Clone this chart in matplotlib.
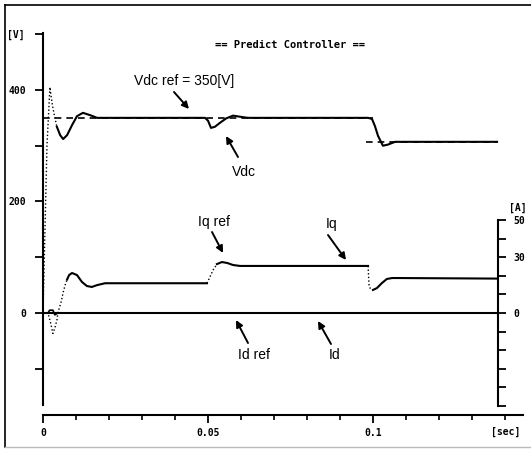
import matplotlib
matplotlib.use('Agg')
import matplotlib.pyplot as plt
from matplotlib.lines import Line2D

# ---- data ----
# DC link voltage [V] vs time [s]
vdc_t = [0.0, 0.0006, 0.0012, 0.0021, 0.0024, 0.0027, 0.0030, 0.0036, 0.0042,
         0.0052, 0.0061, 0.0073, 0.0088, 0.0103, 0.0121, 0.0142, 0.0164, 0.0179,
         0.0491, 0.0500, 0.0509, 0.0521, 0.0536, 0.0555, 0.0576, 0.0597, 0.0621,
         0.0985, 0.0997, 0.1006, 0.1015, 0.1030, 0.1045, 0.1067, 0.1376]
vdc_v = [0, 150, 300, 405, 391, 379, 368, 350, 334,
         319, 312, 319, 337, 353, 359, 355, 350, 350,
         350, 345, 332, 334, 341, 349, 354, 352, 350,
         350, 348, 335, 318, 300, 302, 307, 307]
vdc_dotted = [(0, 8)]

# Vdc reference [V], stepped down at t = 0.1 s (no vertical drawn)
vref_t = [0.0, 0.1, float('nan'), 0.098, 0.1376]
vref_v = [350, 350, float('nan'), 307, 307]

# q-axis current [A]
iq_t = [0.0, 0.0015, 0.0024, 0.0030, 0.0036, 0.0042, 0.0045, 0.0055, 0.0061,
        0.0067, 0.0073, 0.0079, 0.0088, 0.0103, 0.0118, 0.0133, 0.0148, 0.0164,
        0.0188, 0.0497, 0.0506, 0.0515, 0.0527, 0.0542, 0.0558, 0.0576, 0.0597,
        0.0985, 0.0988, 0.0991, 0.1000, 0.1012, 0.1027, 0.1042, 0.1058, 0.1076,
        0.1376]
iq_v = [0, 0, -6, -11, -8, -4, 0, 6, 11,
        15, 18, 20.4, 21.5, 20.4, 16.7, 14.5, 14, 15,
        16, 16, 19.4, 23, 26.3, 27.4, 26.9, 25.8, 25.3,
        25.3, 15, 13.4, 12.4, 13.4, 16.1, 18.3, 18.8, 18.8,
        18.5]
iq_dotted = [(0, 10), (19, 22), (27, 30)]

# d-axis current and its reference [A]
id_t = [0.0, 0.0015, 0.0020, 0.0030, 0.0036, 0.0045, 0.1379]
id_v = [0, 0, 1.5, 1.5, -1, 0, 0]
idref_t = [0.0, 0.1379]
idref_v = [0, 0]

W, H = 531, 450


def fpos(x, y):
    """pixel position in the picture -> figure fraction"""
    return x / W, 1 - y / H


def draw_trace(ax, t, v, dotted):
    # fast transients were drawn as loose dots by the plotter
    cuts = sorted(set([0, len(t) - 1] + [i for r in dotted for i in r]))
    for a, b in zip(cuts[:-1], cuts[1:]):
        if (a, b) in dotted:
            ax.plot(t[a:b + 1], v[a:b + 1], color='black', lw=1.0,
                    linestyle=(0, (1, 1.6)))
        else:
            ax.plot(t[a:b + 1], v[a:b + 1], color='black', lw=1.5)


fig = plt.figure(figsize=(W / 100, H / 100), dpi=100)
fig.patch.set_facecolor('white')

# axes box: t=0 at x=43 px, 3300 px/s ; 0 V at y=313 px, 0.5575 px/V
ax = fig.add_axes([43 / W, 1 - 415 / H, 480 / W, 382 / H])
ax.set_xlim(0, 480 / 3300)
ax.set_ylim(-183.0, 502.2)
ax.patch.set_alpha(0)

mono = dict(family='DejaVu Sans Mono', weight='bold', size=7)

for s in ['top', 'right']:
    ax.spines[s].set_visible(False)
ax.spines['left'].set_bounds(-165, 502)
ax.spines['bottom'].set_bounds(0, 480 / 3300)
for s in ['left', 'bottom']:
    ax.spines[s].set_linewidth(1.5)

ax.set_yticks(range(-100, 501, 100))
ax.set_yticklabels(['', '0', '', '200', '', '400', ''], fontdict=mono)
ax.tick_params(axis='y', direction='out', length=5.8, width=1.3, pad=6)

ax.set_xticks([0, 0.05, 0.1])
ax.set_xticklabels(['0', '0.05', '0.1'], fontdict=mono)
ax.set_xticks([i / 100 for i in range(1, 15) if i not in (5, 10)], minor=True)
ax.tick_params(axis='x', which='major', direction='out', length=6, width=1.3, pad=3)
ax.tick_params(axis='x', which='minor', direction='out', length=3.5, width=1.2)

# current axis on the right, same pixel frame: 1.86 px/A
ax2 = ax.twinx()
ax2.set_ylim(-102 / 1.86, 280 / 1.86)
for s in ['top', 'left', 'bottom']:
    ax2.spines[s].set_visible(False)
ax2.spines['right'].set_position(('data', 0.1379))
ax2.spines['right'].set_bounds(-50, 50)
ax2.spines['right'].set_linewidth(1.5)
ax2.set_yticks(range(-50, 51, 10))
ax2.set_yticklabels(['' if v not in (0, 30, 50) else str(v)
                     for v in range(-50, 51, 10)], fontdict=mono)
ax2.tick_params(axis='y', direction='out', length=5.8, width=1.3, pad=5)

# traces
ax.plot(vref_t, vref_v, color='black', lw=1.2, linestyle=(0, (4, 3)))
draw_trace(ax, vdc_t, vdc_v, vdc_dotted)
ax2.plot(idref_t, idref_v, color='black', lw=1.5)
ax2.plot(id_t, id_v, color='black', lw=1.2)
draw_trace(ax2, iq_t, iq_v, iq_dotted)

# unit labels and title
fig.text(*fpos(16, 35), '[V]', ha='center', va='center', fontdict=mono)
fig.text(*fpos(518, 208), '[A]', ha='center', va='center', fontdict=mono)
fig.text(*fpos(506, 432), '[sec]', ha='center', va='center', fontdict=mono)
fig.text(*fpos(290, 45), '== Predict Controller ==', ha='center', va='center',
         family='DejaVu Sans Mono', weight='bold', size=7.5)

# trace names with arrows
lab = dict(family='Liberation Sans', size=10, ha='center', va='center')
names = [
    ('Vdc ref = 350[V]', (184, 81), (174, 92), (189, 109)),
    ('Vdc', (244, 172), (238, 157), (226, 136)),
    ('Iq ref', (214, 222), (212, 232), (223, 253)),
    ('Iq', (332, 224), (328, 235), (346, 260)),
    ('Id ref', (254, 355), (248, 343), (236, 320)),
    ('Id', (335, 355), (331, 344), (318, 321)),
]
for txt, tp, tail, head in names:
    fig.text(*fpos(*tp), txt, **lab)
    ax.annotate('', xy=fpos(*head), xytext=fpos(*tail),
                xycoords='figure fraction', textcoords='figure fraction',
                arrowprops=dict(arrowstyle='-|>', color='black', lw=1.4,
                                mutation_scale=10, shrinkA=0, shrinkB=0))

# scanned page frame
fig.add_artist(Line2D([5 / W, 5 / W], [1 - 5 / H, 1 - 447 / H], color='black',
                      lw=1.2, transform=fig.transFigure))
fig.add_artist(Line2D([5 / W, 1], [1 - 5 / H, 1 - 5 / H], color='black',
                      lw=1.2, transform=fig.transFigure))
fig.add_artist(Line2D([5 / W, 1], [1 - 447 / H, 1 - 447 / H], color='#bbbbbb',
                      lw=1.0, transform=fig.transFigure))

fig.savefig('out.png', dpi=100)
